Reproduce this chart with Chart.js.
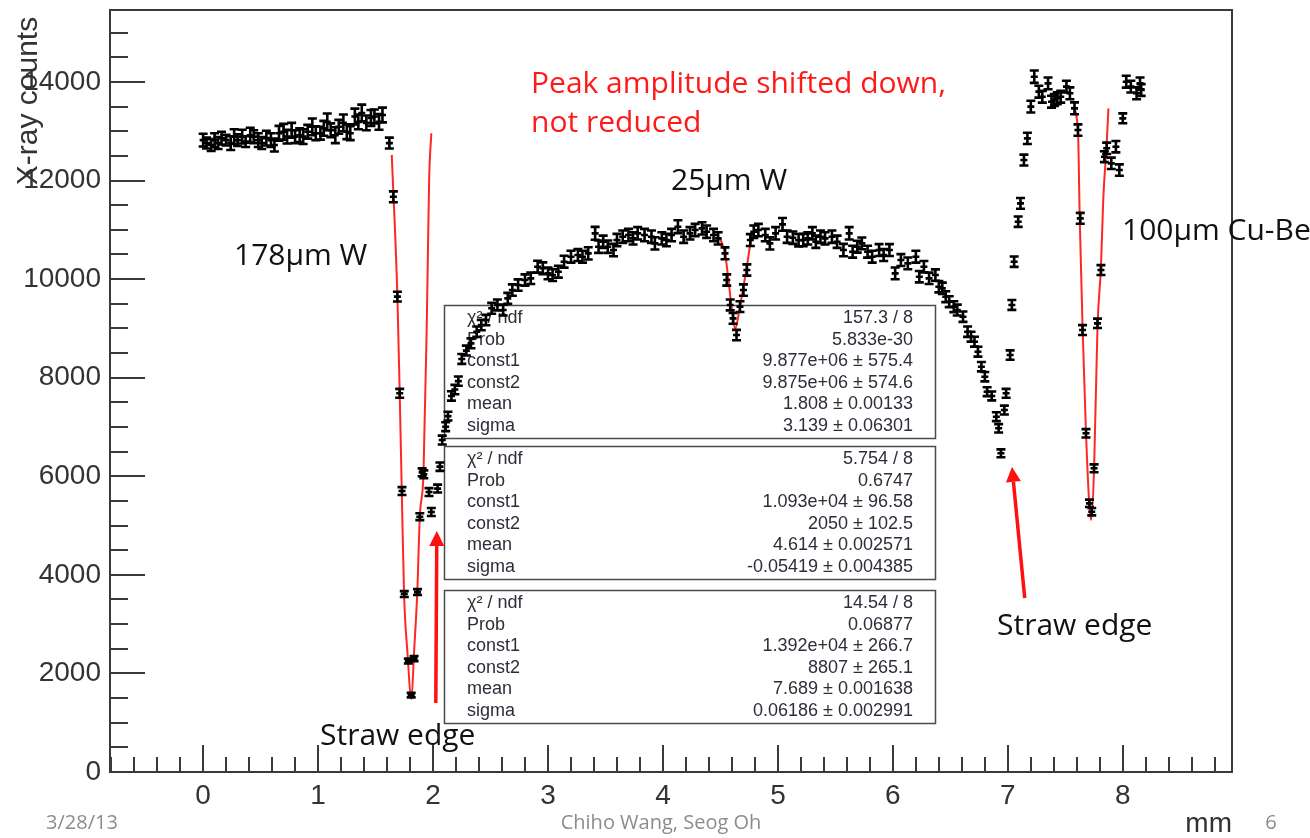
<!DOCTYPE html>
<html>
<head>
<meta charset="utf-8">
<script src="https://cdn.jsdelivr.net/npm/chart.js@4/dist/chart.umd.min.js"></script>
<style>
	html, body { margin: 0; padding: 0; background: #fff; }
	.wrap { position: relative; width: 1310px; height: 838px; }
</style>
</head>
<body>
<div class="wrap"><canvas id="chart"></canvas></div>
<script>
// points are [mm, counts, error]
const plateau = [
	[0.00,12820,130],[0.03,12760,110],[0.07,12720,120],[0.10,12820,140],[0.13,12760,120],[0.16,12860,130],
	[0.20,12820,110],[0.24,12760,140],[0.27,12890,150],[0.30,12820,120],[0.34,12890,140],[0.37,12790,110],
	[0.41,12920,150],[0.44,12890,130],[0.48,12820,140],[0.51,12760,120],[0.55,12860,150],[0.59,12820,140],
	[0.62,12720,130],[0.66,12960,150],[0.70,12990,160],[0.73,12890,140],[0.77,13020,150],[0.80,12890,130],
	[0.84,12920,140],[0.87,12890,150],[0.91,12990,140],[0.95,13090,170],[0.98,12960,140],[1.02,12960,130],
	[1.05,13060,150],[1.08,13190,170],[1.11,13020,140],[1.15,12920,160],[1.18,13090,140],[1.22,13170,170],
	[1.25,12990,150],[1.28,12960,140],[1.32,13300,160],[1.35,13190,150],[1.38,13370,170],[1.42,13170,150],
	[1.46,13270,160],[1.49,13300,140],[1.53,13190,160],[1.56,13330,150],[1.62,12760,110]
];
const dip178 = [
	[1.655,11670,110],[1.69,9645,100],[1.71,7683,90],[1.73,5700,80],[1.75,3610,60],[1.785,2250,50],
	[1.81,1560,45],[1.835,2300,50],[1.865,3650,60],[1.885,5180,70],[1.905,6080,80],[1.92,6040,80]
];
const archLeft = [
	[1.965,5680,80],[1.985,5275,80],[2.04,5750,80],[2.06,6195,85],[2.08,6735,90],[2.11,7005,90],
	[2.13,7220,90],[2.16,7630,95],[2.19,7760,95],[2.22,7930,95],[2.25,8380,100],[2.29,8550,100],
	[2.33,8697,100],[2.38,8933,105],[2.42,9069,105],[2.46,9170,105],[2.51,9408,110],[2.56,9475,110],
	[2.61,9373,110],[2.65,9610,110],[2.69,9779,115],[2.74,9880,115],[2.80,9982,115],[2.85,10016,115],
	[2.91,10252,120],[2.955,10219,120],[3.00,10117,120],[3.04,10083,120],[3.09,10150,120],[3.14,10353,120],
	[3.20,10454,120],[3.26,10489,120],[3.30,10454,120],[3.35,10523,125],[3.41,10929,130],[3.44,10657,125],
	[3.48,10758,125],[3.52,10657,125],[3.57,10590,125],[3.60,10793,125],[3.65,10860,125],[3.70,10894,125],
	[3.74,10827,125],[3.78,10929,125],[3.84,10894,125],[3.90,10860,125],[3.93,10725,125],[3.99,10827,125],
	[4.03,10793,125],[4.075,10894,125],[4.13,11063,130],[4.18,10860,125],[4.235,10929,125],[4.28,10996,125],
	[4.34,11030,125],[4.38,10962,125],[4.44,10894,125],[4.48,10827,125]
];
const dip25 = [
	[4.54,10523,120],[4.555,9982,115],[4.585,9475,110],[4.61,9204,110],[4.64,8866,105],[4.67,9442,110],
	[4.70,9779,115],[4.73,10185,115],[4.76,10793,120],[4.79,10962,125]
];
const archRight = [
	[4.83,10996,125],[4.89,10894,125],[4.93,10725,125],[4.98,10929,125],[5.04,11110,130],[5.08,10860,125],
	[5.13,10840,125],[5.18,10790,125],[5.22,10793,125],[5.26,10827,125],[5.30,10929,125],[5.33,10758,125],
	[5.37,10860,125],[5.41,10827,125],[5.47,10860,125],[5.515,10758,125],[5.57,10590,125],[5.62,10929,125],
	[5.65,10556,120],[5.69,10657,120],[5.73,10725,120],[5.78,10556,120],[5.82,10454,120],[5.88,10590,120],
	[5.92,10489,120],[5.97,10590,120],[6.02,10117,120],[6.07,10387,120],[6.13,10320,120],[6.20,10454,120],
	[6.23,10049,115],[6.27,10252,115],[6.315,10016,115],[6.37,10083,115],[6.40,9846,115],[6.43,9813,115],
	[6.46,9643,110],[6.49,9541,110],[6.53,9440,110],[6.56,9373,110],[6.61,9237,105],[6.65,8933,105],
	[6.68,8832,100],[6.71,8730,100],[6.74,8527,100],[6.77,8223,95],[6.80,8020,95],[6.82,7716,90],
	[6.86,7630,90],[6.90,7208,90],[6.92,6973,85],[6.94,6466,80]
];
const edgeRise = [
	[6.97,7344,90],[6.985,7683,90],[7.02,8460,95],[7.035,9475,100],[7.055,10353,105],[7.09,11164,105],
	[7.11,11537,110],[7.14,12416,110],[7.17,12856,115]
];
const plateauCuBe = [
	[7.20,13500,120],[7.23,14107,125],[7.27,13803,120],[7.30,13700,120],[7.35,13972,120],[7.38,13600,120],
	[7.405,13634,120],[7.43,13668,120],[7.46,13700,120],[7.51,13905,120],[7.54,13770,120]
];
const dipCuBe = [
	[7.58,13465,120],[7.61,13025,115],[7.63,11233,110],[7.65,8967,100],[7.68,6872,85],[7.71,5451,75],
	[7.73,5281,75],[7.75,6162,80],[7.78,9103,95],[7.81,10184,100]
];
const tailCuBe = [
	[7.84,12484,110],[7.86,12654,115],[7.90,12349,115],[7.94,12687,115],[7.97,12213,115],[8.00,13262,100],
	[8.03,14005,120],[8.07,13905,120],[8.12,13770,120],[8.15,13972,120],[8.16,13837,120]
];

// fitted curves
const fit178 = [
	[1.641,12520],[1.69,9645],[1.71,7683],[1.728,5700],[1.748,3610],[1.777,2435],[1.812,1480],
	[1.835,2435],[1.863,3650],[1.885,5180],[1.917,6065],[1.945,9000],[1.966,12010],[1.985,12960]
];
const fit25 = [
	[4.497,10827],[4.54,10520],[4.57,9982],[4.60,9373],[4.628,8990],[4.67,9442],[4.70,9846],
	[4.73,10252],[4.765,10793],[4.775,10894]
];
const fitCuBe = [
	[7.566,13500],[7.61,13025],[7.625,11267],[7.65,9035],[7.68,6872],[7.71,5383],[7.725,5113],
	[7.75,6127],[7.78,9035],[7.81,10252],[7.83,11605],[7.86,12755],[7.875,13465]
];

const xTickLabels = ['0', '1', '2', '3', '4', '5', '6', '7', '8'];
const yTickLabels = ['0', '2000', '4000', '6000', '8000', '10000', '12000', '14000'];

const statLabels = ['χ² / ndf', 'Prob', 'const1', 'const2', 'mean', 'sigma'];
const stat178 = ['157.3 / 8', '5.833e-30', '9.877e+06 ± 575.4', '9.875e+06 ± 574.6', '1.808 ± 0.00133', '3.139 ± 0.06301'];
const stat25 = ['5.754 / 8', '0.6747', '1.093e+04 ± 96.58', '2050 ± 102.5', '4.614 ± 0.002571', '-0.05419 ± 0.004385'];
const statCuBe = ['14.54 / 8', '0.06877', '1.392e+04 ± 266.7', '8807 ± 265.1', '7.689 ± 0.001638', '0.06186 ± 0.002991'];

const axisFont = '28px "Liberation Sans", Arial, sans-serif';
const boxFont = '18px "Liberation Sans", Arial, sans-serif';
const noteFont = '30px "Open Sans", sans-serif';
const footFont = '20px "Open Sans", sans-serif';
const axisColor = '#3a3a3a';

const points = [...plateau, ...dip178, ...archLeft, ...dip25, ...archRight, ...edgeRise, ...plateauCuBe, ...dipCuBe, ...tailCuBe]
	.map(p => ({x: p[0], y: p[1], err: p[2]}));
const curve = pts => pts.map(p => ({x: p[0], y: p[1]}));

const fitSet = pts => ({
	data: curve(pts),
	showLine: true,
	borderColor: 'rgba(255, 0, 0, 0.85)',
	borderWidth: 2,
	pointRadius: 0,
	cubicInterpolationMode: 'monotone'
});

const statBoxes = {
	id: 'statBoxes',
	beforeDatasetsDraw(chart) {
		const ctx = chart.ctx;
		const tops = [305, 446, 590];
		[stat178, stat25, statCuBe].forEach((vals, b) => {
			const top = tops[b];
			ctx.save();
			ctx.strokeStyle = '#4a4a4a';
			ctx.lineWidth = 1.5;
			ctx.strokeRect(444.5, top + 0.5, 491, 133);
			ctx.font = boxFont;
			ctx.fillStyle = '#2e2e3a';
			ctx.textBaseline = 'middle';
			statLabels.forEach((label, i) => {
				const ty = top + 13 + i * 21.6;
				ctx.textAlign = 'left';
				ctx.fillText(label, 467, ty);
				ctx.textAlign = 'right';
				ctx.fillText(vals[i], 913, ty);
			});
			ctx.restore();
		});
	}
};

const errorBars = {
	id: 'errorBars',
	afterDatasetsDraw(chart) {
		const {ctx, chartArea: a, scales: {x, y}} = chart;
		ctx.save();
		ctx.beginPath();
		ctx.rect(a.left, a.top, a.width, a.height);
		ctx.clip();
		ctx.strokeStyle = '#000';
		ctx.lineWidth = 2.6;
		for (const p of chart.data.datasets[0].data) {
			const px = x.getPixelForValue(p.x);
			const top = y.getPixelForValue(p.y + p.err);
			const bot = y.getPixelForValue(p.y - p.err);
			const mid = y.getPixelForValue(p.y);
			ctx.beginPath();
			ctx.moveTo(px, top);
			ctx.lineTo(px, bot);
			ctx.moveTo(px - 4.5, top);
			ctx.lineTo(px + 4.5, top);
			ctx.moveTo(px - 4.5, bot);
			ctx.lineTo(px + 4.5, bot);
			ctx.moveTo(px - 3.5, mid);
			ctx.lineTo(px + 3.5, mid);
			ctx.stroke();
		}
		ctx.restore();
	}
};

const arrow = (ctx, x0, y0, x1, y1) => {
	const ang = Math.atan2(y1 - y0, x1 - x0);
	const len = 15, half = 7.5;
	const bx = x1 - len * Math.cos(ang), by = y1 - len * Math.sin(ang);
	ctx.beginPath();
	ctx.moveTo(x0, y0);
	ctx.lineTo(bx, by);
	ctx.stroke();
	ctx.beginPath();
	ctx.moveTo(x1, y1);
	ctx.lineTo(bx + half * Math.sin(ang), by - half * Math.cos(ang));
	ctx.lineTo(bx - half * Math.sin(ang), by + half * Math.cos(ang));
	ctx.closePath();
	ctx.fill();
};

const rootAxes = {
	id: 'rootAxes',
	afterDraw(chart) {
		const {ctx, chartArea: a, scales: {x, y}} = chart;
		ctx.save();
		ctx.strokeStyle = axisColor;
		ctx.lineWidth = 2;
		ctx.strokeRect(a.left, a.top, a.width, a.height);

		// ticks point inwards, ROOT style
		ctx.beginPath();
		for (let v = -0.8; v <= x.max + 1e-9; v += 0.2) {
			const px = Math.round(x.getPixelForValue(v));
			const major = Math.abs(v - Math.round(v)) < 1e-6;
			ctx.moveTo(px, a.bottom);
			ctx.lineTo(px, a.bottom - (major ? 27 : 15));
		}
		for (let v = 0; v <= y.max; v += 500) {
			const py = Math.round(y.getPixelForValue(v));
			ctx.moveTo(a.left, py);
			ctx.lineTo(a.left + (v % 2000 == 0 ? 35 : 18), py);
		}
		ctx.stroke();

		ctx.fillStyle = '#333';
		ctx.font = axisFont;
		ctx.textAlign = 'center';
		ctx.textBaseline = 'alphabetic';
		xTickLabels.forEach(t => ctx.fillText(t, x.getPixelForValue(Number(t)), 804));
		ctx.textAlign = 'right';
		ctx.textBaseline = 'middle';
		yTickLabels.forEach(t => ctx.fillText(t, 101, y.getPixelForValue(Number(t))));

		ctx.textBaseline = 'alphabetic';
		ctx.fillText('mm', a.right, 832);
		ctx.save();
		ctx.translate(37, 101);
		ctx.rotate(-Math.PI / 2);
		ctx.textAlign = 'center';
		ctx.font = '30px "Liberation Sans", Arial, sans-serif';
		ctx.fillText('X-ray counts', 0, 0);
		ctx.restore();

		// slide annotations
		ctx.textAlign = 'left';
		ctx.font = noteFont;
		ctx.fillStyle = '#ff1a1a';
		ctx.fillText('Peak amplitude shifted down,', 531, 93);
		ctx.fillText('not reduced', 531, 132);
		ctx.fillStyle = '#111';
		ctx.fillText('25µm W', 671, 190);
		ctx.fillText('178µm W', 234, 265);
		ctx.fillText('100µm Cu-Be', 1122, 240);
		ctx.fillText('Straw edge', 320, 745);
		ctx.fillText('Straw edge', 997, 635);

		ctx.strokeStyle = '#ff1010';
		ctx.fillStyle = '#ff1010';
		ctx.lineWidth = 3.5;
		arrow(ctx, x.getPixelForValue(2.024), y.getPixelForValue(1400), x.getPixelForValue(2.033), y.getPixelForValue(4890));
		arrow(ctx, x.getPixelForValue(7.147), y.getPixelForValue(3530), x.getPixelForValue(7.036), y.getPixelForValue(6190));

		ctx.font = footFont;
		ctx.fillStyle = '#8c8c8c';
		ctx.fillText('3/28/13', 46, 829);
		ctx.textAlign = 'center';
		ctx.fillText('Chiho Wang, Seog Oh', 661, 829);
		ctx.fillText('6', 1271, 829);
		ctx.restore();
	}
};

const config = {
	type: 'scatter',
	data: {
		datasets: [
			{data: points, pointRadius: 0, showLine: false},
			fitSet(fit178),
			fitSet(fit25),
			fitSet(fitCuBe)
		]
	},
	options: {
		responsive: true,
		maintainAspectRatio: false,
		animation: false,
		layout: {padding: {left: 110, right: 78, top: 10, bottom: 66}},
		plugins: {legend: {display: false}, tooltip: {enabled: false}},
		scales: {
			x: {type: 'linear', min: -0.81, max: 8.95, display: false},
			y: {type: 'linear', min: 0, max: 15460, display: false}
		}
	},
	plugins: [statBoxes, errorBars, rootAxes]
};

new Chart(document.getElementById('chart'), config);
</script>
</body>
</html>
